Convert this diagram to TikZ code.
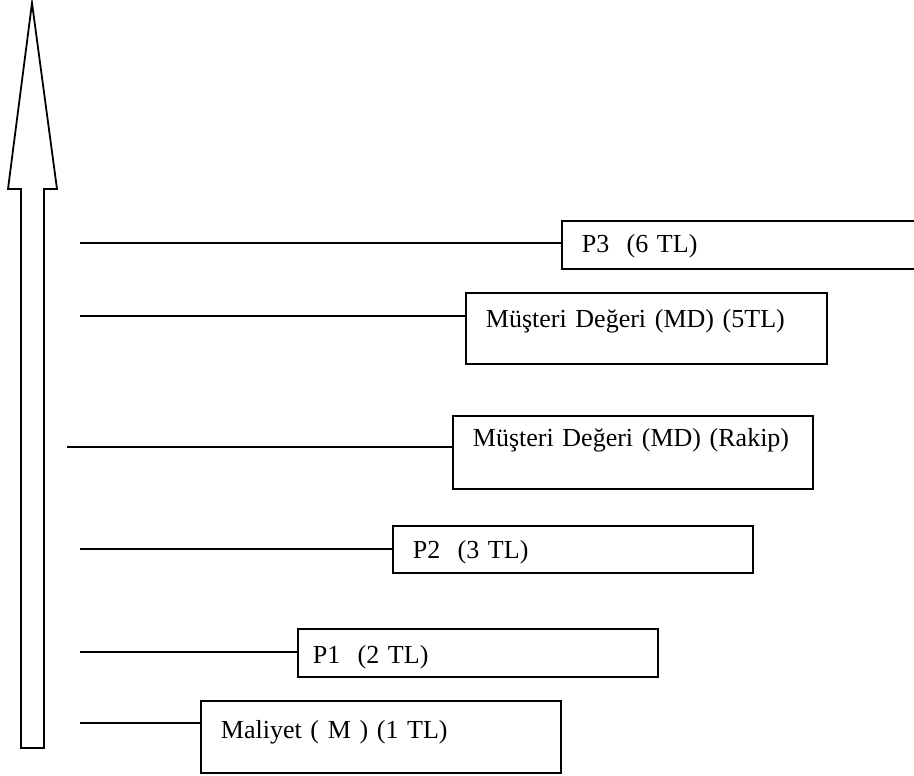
\documentclass[tikz,border=0pt]{standalone}
\usepackage{fontspec}
\setmainfont{Liberation Serif}
\usepackage{tikz}

\begin{document}
\begin{tikzpicture}[x=1pt,y=-1pt,line width=1.8pt,
  pbox/.style={draw,anchor=north west,inner ysep=0pt,inner xsep=20pt,align=left,
    font=\fontsize{26}{30}\selectfont},
  tick/.style={line width=1.8pt}]
 \useasboundingbox (0,0) rectangle (914,776);
 \clip (0,0) rectangle (914,776);
 %value arrow
 \draw (21,748) -- (21,189) -- (8,189) -- (32,3) -- (57,189) -- (44,189) -- (44,748) -- cycle;
 %boxes
 \node[pbox,text width=340pt,text height=32pt,text depth=16pt] (P3) at (561,220) {P3\ \ (6~TL)};
 \node[pbox,text width=321pt,text height=35pt,text depth=36pt] (MD) at (465,292) {Müşteri Değeri (MD) (5TL)};
 \node[pbox,text width=320pt,text height=31pt,text depth=42pt] (MDR) at (452,415) {Müşteri Değeri (MD) (Rakip)};
 \node[pbox,text width=320pt,text height=33pt,text depth=14pt] (P2) at (392,525) {P2\ \ (3~TL)};
 \node[pbox,inner xsep=15pt,text width=330pt,text height=35pt,text depth=13pt] (P1) at (297,628) {P1\ \ (2~TL)};
 \node[pbox,text width=320pt,text height=38pt,text depth=34pt] (M) at (200,700) {Maliyet ( M ) (1 TL)};
 %levels
 \coordinate (l6) at (80,243);
 \coordinate (l5) at (80,316);
 \coordinate (lr) at (67,447);
 \coordinate (l3) at (80,549);
 \coordinate (l2) at (80,652);
 \coordinate (l1) at (80,723);
 \draw[tick] (l6) -- (l6 -| P3.west);
 \draw[tick] (l5) -- (l5 -| MD.west);
 \draw[tick] (lr) -- (lr -| MDR.west);
 \draw[tick] (l3) -- (l3 -| P2.west);
 \draw[tick] (l2) -- (l2 -| P1.west);
 \draw[tick] (l1) -- (l1 -| M.west);
\end{tikzpicture}
\end{document}
